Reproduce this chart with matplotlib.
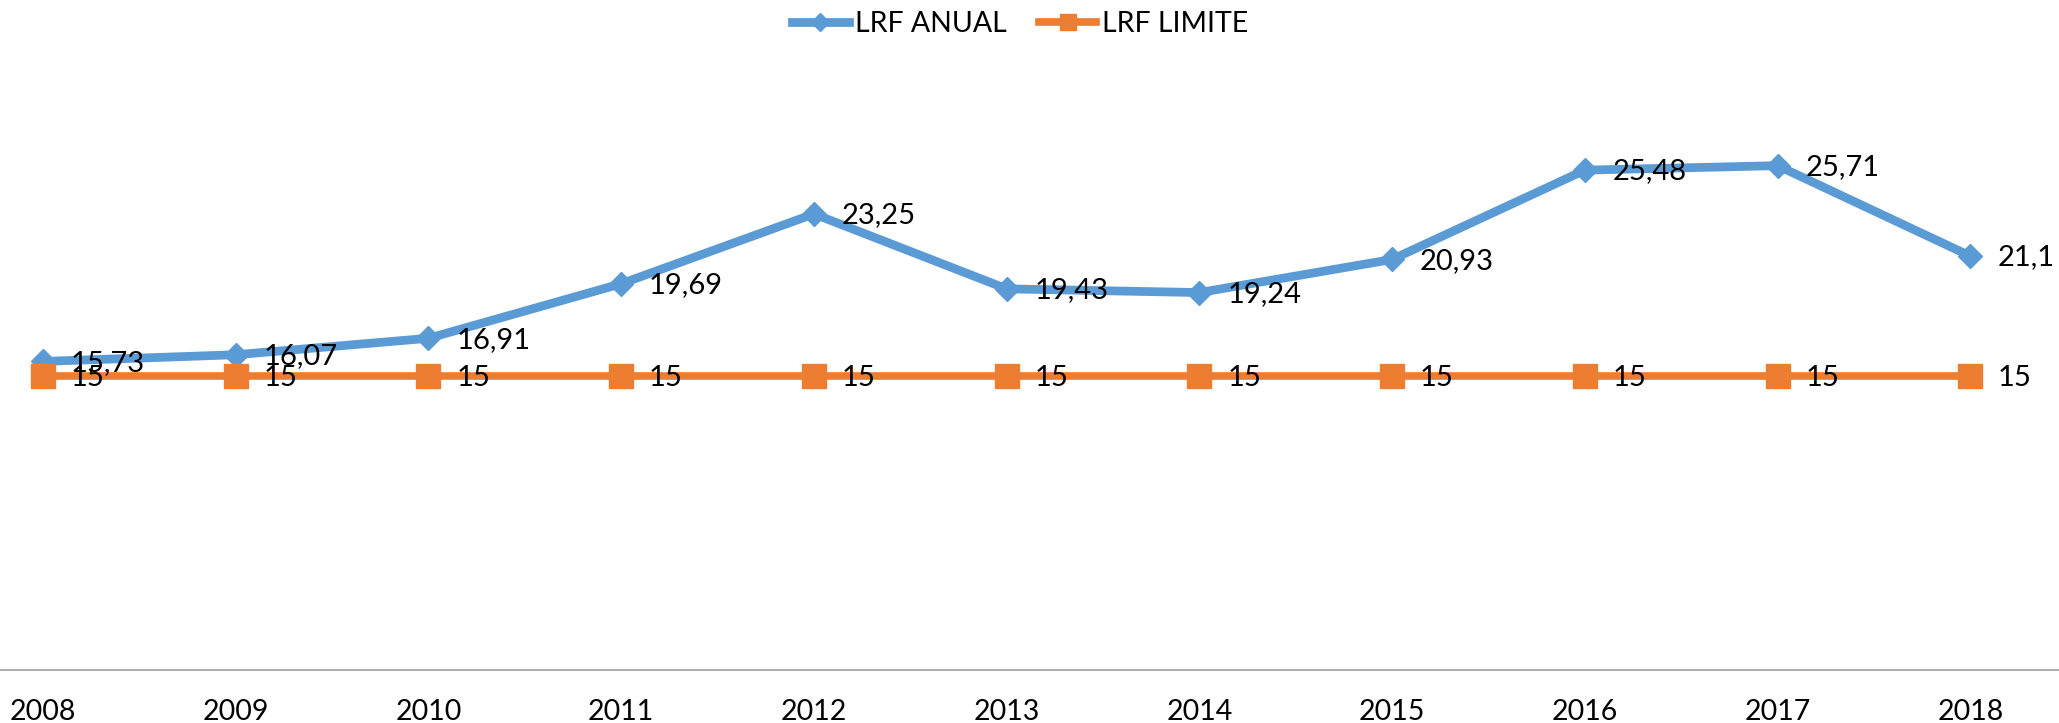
import matplotlib.pyplot as plt

years = ['2008', '2009', '2010', '2011', '2012', '2013', '2014', '2015', '2016', '2017', '2018']
lrf_anual = [15.73, 16.07, 16.91, 19.69, 23.25, 19.43, 19.24, 20.93, 25.48, 25.71, 21.1]
lrf_limite = [15, 15, 15, 15, 15, 15, 15, 15, 15, 15, 15]

BLUE = '#5B9BD5'
ORANGE = '#ED7D31'

plt.rcParams['font.family'] = ['Lato', 'DejaVu Sans']


def fmt(v):
    # numero com virgula decimal
    return f'{v:g}'.replace('.', ',')


fig = plt.figure(figsize=(20.59, 7.23), dpi=100)
ax = fig.add_axes([0, 0.0733, 1, 0.814])

x = list(range(len(years)))
ax.plot(x, lrf_anual, color=BLUE, lw=6.3, marker='D', markersize=12.5,
        label='LRF ANUAL', zorder=3)
ax.plot(x, lrf_limite, color=ORANGE, lw=5.5, marker='s', markersize=17,
        label='LRF LIMITE', zorder=4)

for i, v in enumerate(lrf_anual):
    ax.annotate(fmt(v), (i, v), xytext=(20, -1), textcoords='offset points',
                ha='left', va='center', fontsize=21, color='black', zorder=5)
for i, v in enumerate(lrf_limite):
    ax.annotate(fmt(v), (i, v), xytext=(20, -1.5), textcoords='offset points',
                ha='left', va='center', fontsize=21, color='black', zorder=5)

ax.set_xlim(-0.223, 10.46)
ax.set_ylim(0, 30)
ax.set_xticks(x)
ax.set_xticklabels(years, fontsize=20.5)
ax.tick_params(axis='x', length=0, pad=21)
ax.set_yticks([])
for s in ['top', 'left', 'right']:
    ax.spines[s].set_visible(False)
ax.spines['bottom'].set_color('#A0A0A0')
ax.spines['bottom'].set_linewidth(1.2)

fig.legend(loc='center', bbox_to_anchor=(1020 / 2059, 1 - 24 / 723), ncol=2,
           frameon=False, fontsize=20.5, handlelength=2.0, handletextpad=0.2,
           columnspacing=1.15, markerscale=0.7)

fig.savefig('out.png', dpi=100)
